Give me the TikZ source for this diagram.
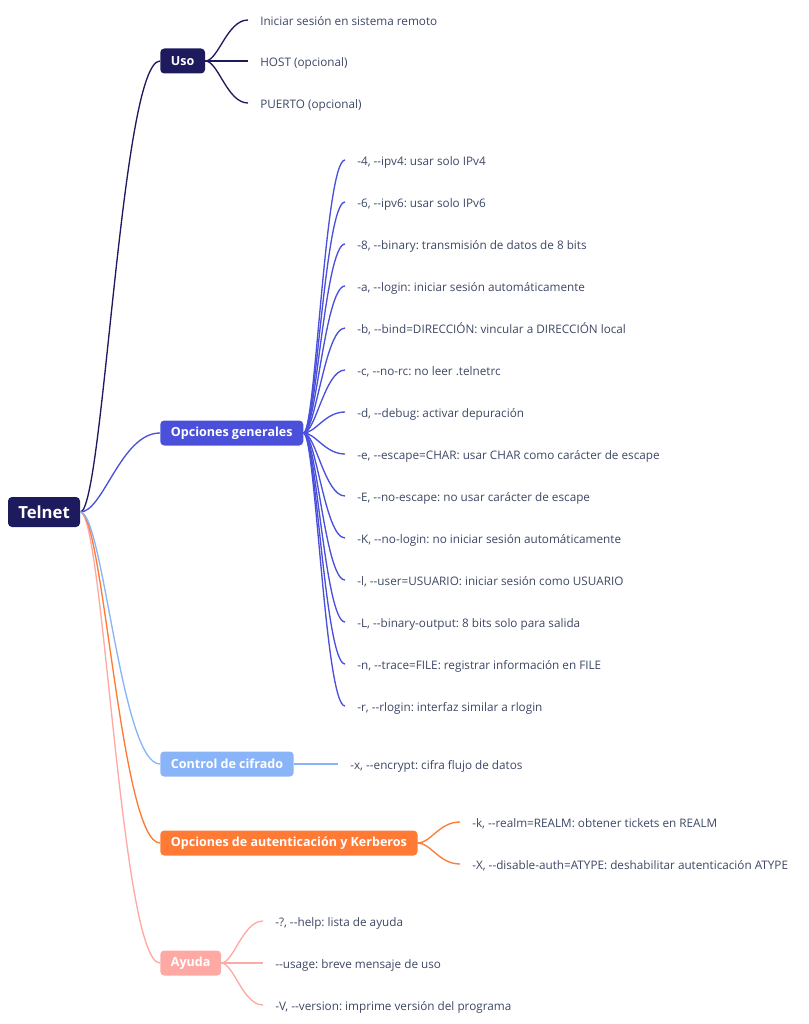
\documentclass[tikz,border=0pt]{standalone}
\usepackage{fontspec}
\setmainfont{Open Sans}[Ligatures=TeXOff]
\usetikzlibrary{positioning}
\usetikzlibrary{calc}
\frenchspacing

\definecolor{marino}{HTML}{1D1B5E}
\definecolor{violeta}{HTML}{4A50D9}
\definecolor{celeste}{HTML}{8AB4F8}
\definecolor{naranja}{HTML}{FF7A35}
\definecolor{rosa}{HTML}{FFA9A5}
\definecolor{texto}{HTML}{3D4764}

\tikzset{
	rama/.style={rectangle, rounded corners=3pt, fill=#1, text=white, anchor=west,
		font=\bfseries\fontsize{9.4}{11}\selectfont, minimum height=18.75pt, inner xsep=8pt},
	hoja/.style={text=texto, anchor=west, font=\fontsize{8.8}{10}\selectfont,
		inner xsep=9pt, inner ysep=1pt, text height=8.5pt, text depth=0.5pt},
	enlace/.style={draw=#1, line width=1pt},
}

\begin{document}
\begin{tikzpicture}[x=0.75pt, y=-0.75pt]
	\useasboundingbox (0,0) rectangle (808,1024);

	\node[fill=marino, text=white, rounded corners=3pt, minimum width=54pt, minimum height=22.5pt,
		font=\bfseries\fontsize{12.5}{14}\selectfont] (tel) at (44,512) {Telnet};

	\node[rama=marino] (uso) at (160,61) {Uso};
	\node[rama=violeta] (og) at (160,433) {Opciones generales};
	\node[rama=celeste] (cif) at (160,764) {Control de cifrado};
	\node[rama=naranja] (aut) at (160,843) {Opciones de autenticación y Kerberos};
	\node[rama=rosa] (ayu) at (160,963) {Ayuda};

	\draw[enlace=marino] (tel.east) .. controls +(23,0) and +(-39,0) .. (uso.west);
	\draw[enlace=violeta] (tel.east) .. controls +(23,0) and +(-39,0) .. (og.west);
	\draw[enlace=rosa] (tel.east) .. controls +(23,0) and +(-39,0) .. (ayu.west);
	\draw[enlace=naranja] (tel.east) .. controls +(23,0) and +(-39,0) .. (aut.west);
	\draw[enlace=celeste] (tel.east) .. controls +(23,0) and +(-39,0) .. (cif.west);

	% Uso
	\node[hoja] (uso1) at (248,20) {Iniciar sesión en sistema remoto};
	\node[hoja] (uso2) at (248,61) {HOST (opcional)};
	\node[hoja] (uso3) at (248,103) {PUERTO (opcional)};
	\foreach \n in {uso1,uso2,uso3}
		\draw[enlace=marino] (uso.east) .. controls +(13,0) and +(-21,0) .. (\n.west);

	% Opciones generales
	\foreach \t [count=\i] in {
		{-4, --ipv4: usar solo IPv4},
		{-6, --ipv6: usar solo IPv6},
		{-8, --binary: transmisión de datos de 8 bits},
		{-a, --login: iniciar sesión automáticamente},
		{-b, --bind=DIRECCIÓN: vincular a DIRECCIÓN local},
		{-c, --no-rc: no leer .telnetrc},
		{-d, --debug: activar depuración},
		{-e, --escape=CHAR: usar CHAR como carácter de escape},
		{-E, --no-escape: no usar carácter de escape},
		{-K, --no-login: no iniciar sesión automáticamente},
		{-l, --user=USUARIO: iniciar sesión como USUARIO},
		{-L, --binary-output: 8 bits solo para salida},
		{-n, --trace=FILE: registrar información en FILE},
		{-r, --rlogin: interfaz similar a rlogin}}
	{
		\node[hoja] (og\i) at (345,118+42*\i) {\t};
		\draw[enlace=violeta] (og.east) .. controls +(12,0) and +(-20,0) .. (og\i.west);
	}

	% Control de cifrado
	\node[hoja] (cif1) at (338,764) {-x, --encrypt: cifra flujo de datos};
	\draw[enlace=celeste] (cif.east) -- (cif1.west);

	% Kerberos
	\node[hoja] (aut1) at (460,822) {-k, --realm=REALM: obtener tickets en REALM};
	\node[hoja] (aut2) at (460,864) {-X, --disable-auth=ATYPE: deshabilitar autenticación ATYPE};
	\foreach \n in {aut1,aut2}
		\draw[enlace=naranja] (aut.east) .. controls +(13,0) and +(-21,0) .. (\n.west);

	% Ayuda
	\node[hoja] (ayu1) at (263,921) {-?, --help: lista de ayuda};
	\node[hoja] (ayu2) at (263,963) {--usage: breve mensaje de uso};
	\node[hoja] (ayu3) at (263,1005) {-V, --version: imprime versión del programa};
	\foreach \n in {ayu1,ayu2,ayu3}
		\draw[enlace=rosa] (ayu.east) .. controls +(12,0) and +(-20,0) .. (\n.west);
\end{tikzpicture}
\end{document}
